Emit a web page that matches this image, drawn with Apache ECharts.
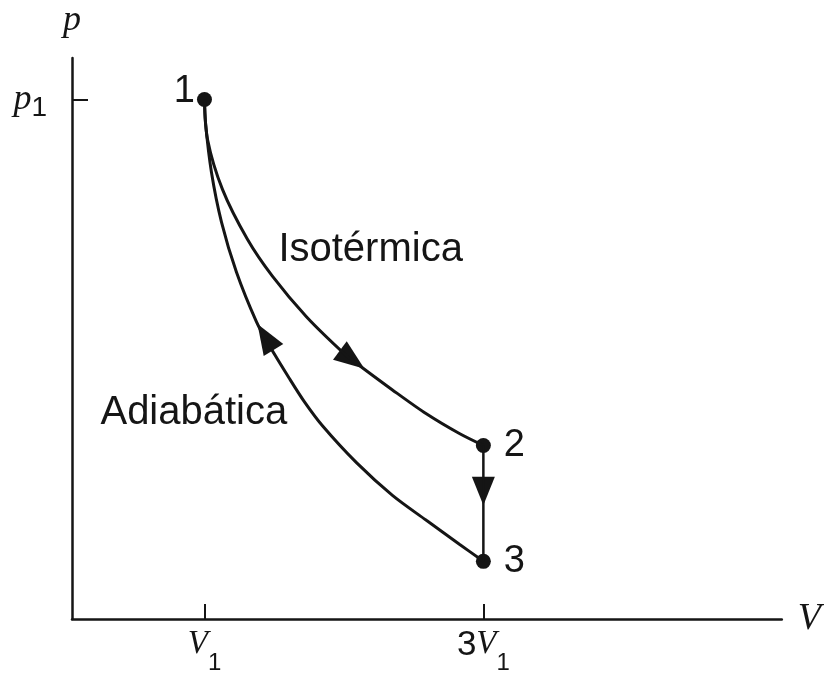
<!DOCTYPE html>
<html>
<head>
<meta charset="utf-8">
<title>Ciclo p-V</title>
<script src="https://cdn.jsdelivr.net/npm/echarts@6/dist/echarts.min.js"></script>
<style>
  html, body { margin: 0; padding: 0; background: #fff; }
  #chart { width: 824px; height: 675px; }
</style>
</head>
<body>
<div id="chart"></div>
<script>
// V en unidades de V1, p en unidades de p1
var isoV = [1.000, 1.022, 1.129, 1.308, 1.487, 1.731, 2.018, 2.111, 2.348, 2.591, 2.828, 3.000];
var isoP = [1.000, 0.923, 0.827, 0.731, 0.660, 0.582, 0.507, 0.488, 0.441, 0.395, 0.357, 0.334];
var adiaV = [1.000, 1.007, 1.050, 1.122, 1.229, 1.373, 1.466, 1.609, 1.717, 1.846, 2.090, 2.348, 2.591, 2.828, 3.000];
var adiaP = [1.000, 0.956, 0.860, 0.764, 0.668, 0.572, 0.526, 0.463, 0.418, 0.372, 0.301, 0.238, 0.190, 0.144, 0.111];
var stateNames = ['1', '2', '3'];
var stateV = [1, 3, 3];
var stateP = [1, 0.334, 0.111];
// flechas: [V base, p base, V punta, p punta]
var arrows = [
  [1.971, 0.517, 2.147, 0.482],
  [1.495, 0.518, 1.380, 0.568],
  [3, 0.274, 3, 0.219]
];
var xTicks = [1, 3];
var xTickLabels = ['{v|V}{s|1}', '{n|3}{v|V}{s|1}'];
var yTicks = [1];
var yTickLabels = ['{p|p}{s|1}'];

var ink = '#151515';
var sans = 'Liberation Sans, Arial, sans-serif';
var serif = 'Liberation Serif, Times New Roman, serif';

function zip (a, b) {
  return a.map(function (v, i) { return [v, b[i]]; });
}

var chart = echarts.init(document.getElementById('chart'));

var option = {
  animation: false,
  backgroundColor: '#fff',
  grid: { left: 72, right: 42, top: 58, bottom: 54 },
  xAxis: {
    type: 'value',
    min: 0.05,
    max: 5.14,
    name: 'V',
    nameLocation: 'end',
    nameGap: 16,
    nameTextStyle: { fontFamily: serif, fontStyle: 'italic', fontSize: 38, color: ink },
    axisLine: { lineStyle: { color: ink, width: 2.5 } },
    axisTick: { show: true, inside: true, length: 15, customValues: xTicks, lineStyle: { color: ink, width: 2 } },
    axisLabel: {
      customValues: xTicks,
      margin: 9,
      formatter: function (v) { return xTickLabels[xTicks.indexOf(v)]; },
      rich: {
        n: { fontFamily: sans, fontSize: 35, lineHeight: 34, verticalAlign: 'top', color: ink },
        v: { fontFamily: serif, fontStyle: 'italic', fontSize: 33, lineHeight: 34, verticalAlign: 'top', color: ink },
        s: { fontFamily: sans, fontSize: 24, lineHeight: 24, verticalAlign: 'top', padding: [23, 0, 0, 0], color: ink }
      }
    },
    splitLine: { show: false }
  },
  yAxis: {
    type: 'value',
    min: 0,
    max: 1.08,
    name: 'p',
    nameLocation: 'end',
    nameGap: 19,
    nameTextStyle: { fontFamily: serif, fontStyle: 'italic', fontSize: 36, color: ink },
    axisLine: { lineStyle: { color: ink, width: 2.5 } },
    axisTick: { show: true, inside: true, length: 16, customValues: yTicks, lineStyle: { color: ink, width: 2 } },
    axisLabel: {
      customValues: yTicks,
      margin: 25,
      formatter: function (v) { return yTickLabels[yTicks.indexOf(v)]; },
      rich: {
        p: { fontFamily: serif, fontStyle: 'italic', fontSize: 36, lineHeight: 36, color: ink },
        s: { fontFamily: sans, fontSize: 28, lineHeight: 28, padding: [17, 0, 0, 0], color: ink }
      }
    },
    splitLine: { show: false }
  },
  series: [
    {
      name: 'Isotermica',
      type: 'line',
      data: zip(isoV, isoP),
      smooth: 0.3,
      showSymbol: false,
      lineStyle: { color: ink, width: 3 }
    },
    {
      name: 'Adiabatica',
      type: 'line',
      data: zip(adiaV, adiaP),
      smooth: 0.3,
      showSymbol: false,
      lineStyle: { color: ink, width: 3 }
    },
    {
      name: '2-3',
      type: 'line',
      data: [[stateV[1], stateP[1]], [stateV[2], stateP[2]]],
      showSymbol: false,
      lineStyle: { color: ink, width: 2.5 }
    },
    {
      name: 'flechas',
      type: 'custom',
      data: arrows,
      encode: { x: [0, 2], y: [1, 3] },
      renderItem: function (params, api) {
        var b = api.coord([api.value(0), api.value(1)]);
        var t = api.coord([api.value(2), api.value(3)]);
        var dx = t[0] - b[0], dy = t[1] - b[1];
        var len = Math.sqrt(dx * dx + dy * dy);
        var nx = -dy / len * 11.5, ny = dx / len * 11.5;
        return {
          type: 'polygon',
          shape: { points: [t, [b[0] + nx, b[1] + ny], [b[0] - nx, b[1] - ny]] },
          style: { fill: ink }
        };
      }
    },
    {
      name: 'estados',
      type: 'scatter',
      symbolSize: 15,
      itemStyle: { color: ink, opacity: 1 },
      label: {
        show: true,
        formatter: '{b}',
        fontFamily: sans,
        fontSize: 38,
        color: ink
      },
      data: stateNames.map(function (n, i) {
        var item = { name: n, value: [stateV[i], stateP[i]] };
        if (i === 0) {
          item.label = { position: 'left', distance: 2, offset: [0, -8] };
        } else {
          item.label = { position: 'right', distance: 13 };
        }
        return item;
      })
    },
    {
      name: 'textos',
      type: 'scatter',
      symbolSize: 0,
      silent: true,
      itemStyle: { opacity: 1 },
      label: {
        show: true,
        position: 'right',
        distance: 0,
        formatter: '{b}',
        fontFamily: sans,
        fontSize: 40,
        color: ink
      },
      data: [
        { name: 'Isotérmica', value: [1.530, 0.710] },
        { name: 'Adiabática', value: [0.254, 0.397] }
      ]
    }
  ]
};

chart.setOption(option);
</script>
</body>
</html>
